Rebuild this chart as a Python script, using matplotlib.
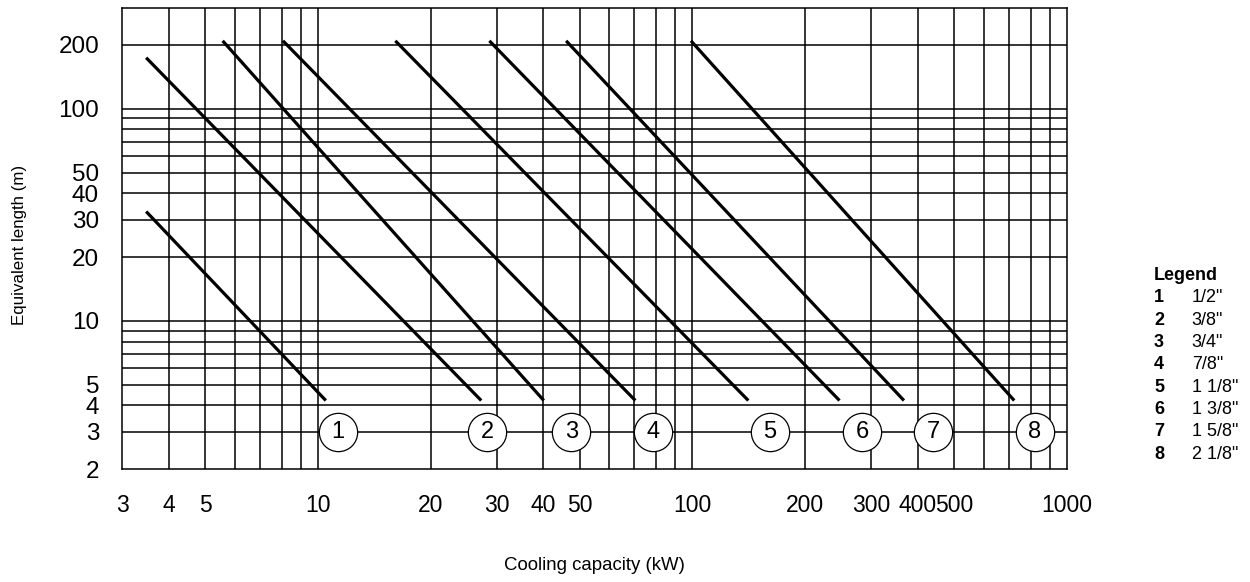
import matplotlib
matplotlib.use("Agg")
import matplotlib.pyplot as plt

plt.rcParams['font.family'] = ['Liberation Sans', 'DejaVu Sans']

# Pipe sizes (legend)
pipe_numbers = ['1', '2', '3', '4', '5', '6', '7', '8']
pipe_sizes = ['1/2"', '3/8"', '3/4"', '7/8"', '1 1/8"', '1 3/8"', '1 5/8"', '2 1/8"']

# Line end points (cooling capacity kW, equivalent length m)
x_start = [3.48, 3.48, 5.57, 8.07, 16.1, 28.7, 46.0, 99.1]
y_start = [32.8, 174, 209, 209, 209, 209, 209, 209]
x_end = [10.5, 27.3, 40.1, 70.4, 141, 247, 367, 723]
y_end = [4.22, 4.22, 4.22, 4.22, 4.22, 4.22, 4.22, 4.22]

# Circle label positions
circle_x = [11.3, 28.3, 47.5, 78.5, 161, 284, 440, 821]
circle_y = 3

# Grid and ticks
x_grid = [4, 5, 6, 7, 8, 9, 10, 20, 30, 40, 50, 60, 70, 80, 90, 100,
          200, 300, 400, 500, 600, 700, 800, 900]
y_grid = [3, 4, 5, 6, 7, 8, 9, 10, 20, 30, 40, 50, 60, 70, 80, 90, 100, 200]
x_labels = [3, 4, 5, 10, 20, 30, 40, 50, 100, 200, 300, 400, 500, 1000]
y_labels = [2, 3, 4, 5, 10, 20, 30, 40, 50, 100, 200]
x_marks = [3, 10, 100, 1000]
y_marks = [2, 10, 100]

fig = plt.figure(figsize=(12.5, 5.82), dpi=100)
ax = fig.add_axes([0.0976, 0.1936, 0.7560, 0.7935])
ax.set_xscale('log')
ax.set_yscale('log')
ax.set_xlim(3, 1000)
ax.set_ylim(2, 300)

for v in x_grid:
    ax.axvline(v, color='black', lw=1.1, zorder=1)
for v in y_grid:
    ax.axhline(v, color='black', lw=1.1, zorder=1)

for i in range(len(x_start)):
    ax.plot([x_start[i], x_end[i]], [y_start[i], y_end[i]], color='black',
            lw=2.3, solid_capstyle='butt', zorder=2)

ax.scatter(circle_x, [circle_y] * len(circle_x), s=760, facecolor='white',
           edgecolor='black', linewidth=0.9, zorder=3, clip_on=False)
for i in range(len(circle_x)):
    ax.text(circle_x[i], circle_y, pipe_numbers[i], ha='center', va='center',
            fontsize=17, zorder=4)

ax.set_xticks(x_labels, labels=[str(v) for v in x_labels])
ax.set_yticks(y_labels, labels=[str(v) for v in y_labels])
ax.set_xticks(x_marks, labels=['' for v in x_marks], minor=True)
ax.set_yticks(y_marks, labels=['' for v in y_marks], minor=True)
ax.tick_params(which='major', length=0)
ax.tick_params(axis='x', which='major', pad=18, labelsize=16.5)
ax.tick_params(axis='y', which='major', pad=16.5, labelsize=17.5)
ax.tick_params(which='minor', length=7.5, width=0.9, color='black')
for s in ax.spines.values():
    s.set_linewidth(1.1)

fig.text(0.4756, 1 - 565 / 582, 'Cooling capacity (kW)', fontsize=13.4,
         ha='center', va='center')
fig.text(0.016, 1 - 245 / 582, 'Equivalent length (m)', rotation=90, fontsize=12.2,
         ha='center', va='center')

# Legend block
fig.text(0.9232, 1 - 276 / 582, 'Legend', fontsize=13, fontweight='bold', va='center')
for i in range(len(pipe_numbers)):
    yy = 1 - (298 + i * 22.3) / 582
    fig.text(0.9232, yy, pipe_numbers[i], fontsize=13, fontweight='bold', va='center')
    fig.text(0.9534, yy, pipe_sizes[i], fontsize=13, va='center')

fig.savefig('out.png', dpi=100)
